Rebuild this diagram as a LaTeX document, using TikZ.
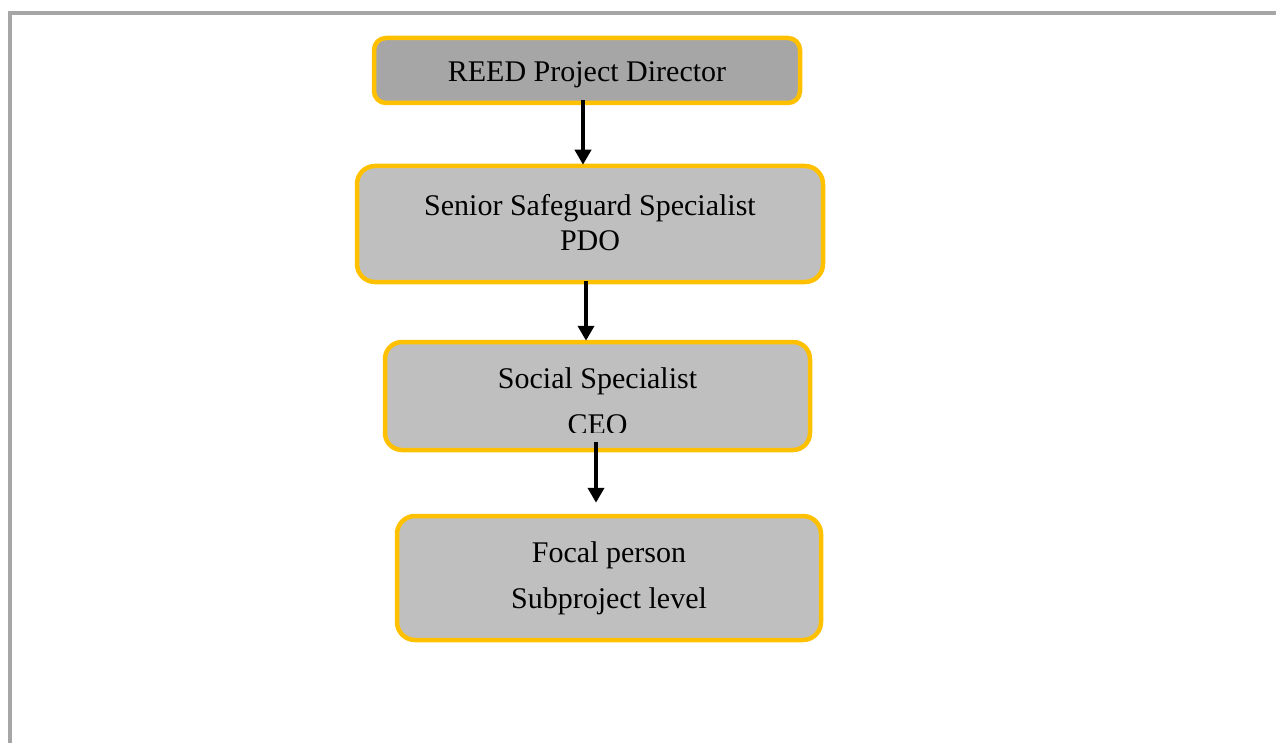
\documentclass[tikz,border=0pt]{standalone}
\usepackage{fontspec}
\setmainfont{Liberation Serif}
\usetikzlibrary{arrows.meta}
\definecolor{frame}{HTML}{A6A6A6}
\definecolor{gold}{HTML}{FFC000}
\definecolor{darkfill}{HTML}{A6A6A6}
\definecolor{lightfill}{HTML}{BFBFBF}
\tikzset{
  box/.style={draw=gold, line width=4.5pt, rectangle, inner sep=0pt},
  txt/.style={anchor=base, inner sep=0pt, font=\fontsize{30}{30}\selectfont, text=black},
  arr/.style={line width=4pt, -{Triangle[width=16pt,length=15pt]}},
}
\begin{document}
\begin{tikzpicture}[x=1pt,y=-1pt]
\useasboundingbox (0,0) rectangle (1276,743);
% outer frame lines
\draw[frame, line width=4pt] (10,13) -- (1276,13);
\draw[frame, line width=4pt] (10,11) -- (10,743);
% boxes
\node[box, fill=darkfill, rounded corners=12pt, minimum width=426pt, minimum height=65pt] (b1) at (587,70.5) {};
\node[box, fill=lightfill, rounded corners=18pt, minimum width=466pt, minimum height=116pt] (b2) at (590,224) {};
\node[box, fill=lightfill, rounded corners=17pt, minimum width=425pt, minimum height=108pt] (b3) at (597.5,396) {};
\node[box, fill=lightfill, rounded corners=18pt, minimum width=424pt, minimum height=124pt] (b4) at (609,578) {};
% texts
\node[txt] (t1) at (587,82) {REED Project Director};
\node[txt] (t2a) at (590,216) {Senior Safeguard Specialist};
\node[txt] (t2b) at (590,251) {PDO};
\node[txt] (t3a) at (597.5,388) {Social Specialist};
\begin{scope}
  \clip (400,395) rectangle (800,432);
  \node[txt] (t3b) at (597.5,434) {CEO};
\end{scope}
\node[txt] (t4a) at (609,562) {Focal person};
\node[txt] (t4b) at (609,608) {Subproject level};
% arrows
\draw[arr] ([xshift=-4pt,yshift=5pt]b1.south) -- ([xshift=-7pt,yshift=-1pt]b2.north);
\draw[arr] ([xshift=-4pt,yshift=3pt]b2.south) -- ([xshift=-11.5pt,yshift=-1pt]b3.north);
\draw[arr] ([xshift=-1.5pt,yshift=10pt]b3.south) -- ([xshift=-13pt,yshift=11pt]b4.north);
\end{tikzpicture}
\end{document}
